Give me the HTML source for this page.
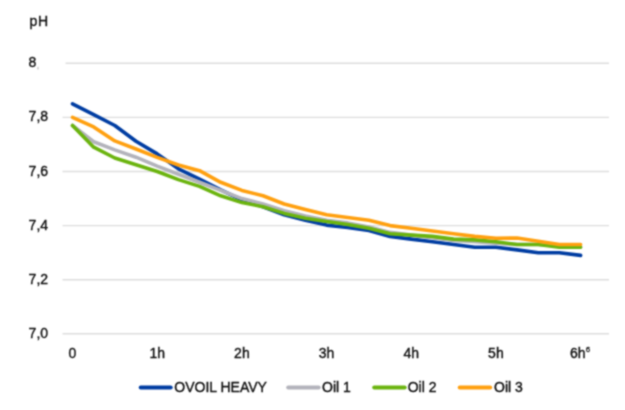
<!DOCTYPE html>
<html><head><meta charset="utf-8"><title>pH chart</title>
<style>
html,body{margin:0;padding:0;background:#fff;}
body{width:625px;height:410px;overflow:hidden;}
svg{display:block;}
.t{font-family:"Liberation Sans",sans-serif;font-size:14px;fill:#0c0c0c;stroke:#0c0c0c;stroke-width:0.35px;}
</style></head><body>
<svg width="625" height="410" viewBox="0 0 625 410">
<defs><filter id="bl" color-interpolation-filters="sRGB" x="0" y="0" width="625" height="410" filterUnits="userSpaceOnUse"><feConvolveMatrix order="3" kernelMatrix="1 2 1 2 6 2 1 2 1" edgeMode="duplicate" preserveAlpha="true"/></filter></defs>
<rect width="625" height="410" fill="#fff"/>
<g filter="url(#bl)">
<rect width="625" height="410" fill="#fff"/>
<text x="29.6" y="25.6" class="t" letter-spacing="0.5">pH</text>
<ellipse cx="38" cy="68.2" rx="0.9" ry="1.6" fill="#d4d4d4"/>
<line x1="65.5" x2="609" y1="63.3" y2="63.3" stroke="#dddddd" stroke-width="1.4"/>
<text x="28.6" y="67.3" class="t">8</text>
<line x1="62.5" x2="609" y1="117.4" y2="117.4" stroke="#dddddd" stroke-width="1.4"/>
<text x="28.6" y="121.4" class="t">7,8</text>
<line x1="62.5" x2="609" y1="171.5" y2="171.5" stroke="#dddddd" stroke-width="1.4"/>
<text x="28.6" y="175.5" class="t">7,6</text>
<line x1="62.5" x2="609" y1="225.6" y2="225.6" stroke="#dddddd" stroke-width="1.4"/>
<text x="28.6" y="229.6" class="t">7,4</text>
<line x1="62.5" x2="609" y1="279.7" y2="279.7" stroke="#dddddd" stroke-width="1.4"/>
<text x="28.6" y="283.7" class="t">7,2</text>
<line x1="62.5" x2="609" y1="333.8" y2="333.8" stroke="#dddddd" stroke-width="1.4"/>
<text x="28.6" y="337.8" class="t">7,0</text>

<text x="72.5" y="357.8" class="t" text-anchor="middle">0</text>
<text x="157.2" y="357.8" class="t" text-anchor="middle">1h</text>
<text x="241.9" y="357.8" class="t" text-anchor="middle">2h</text>
<text x="326.6" y="357.8" class="t" text-anchor="middle">3h</text>
<text x="411.2" y="357.8" class="t" text-anchor="middle">4h</text>
<text x="495.9" y="357.8" class="t" text-anchor="middle">5h</text>
<text x="580.1" y="357.8" class="t" text-anchor="middle">6h<tspan dy="-6.3" font-size="8" fill="#444" stroke-width="0.3">6</tspan></text>

<polyline points="72.5,103.9 93.7,114.7 114.8,125.5 136.0,141.2 157.2,153.9 178.4,168.8 199.5,179.1 220.7,189.9 241.9,199.9 263.0,206.7 284.2,214.8 305.4,220.2 326.6,225.1 347.7,227.5 368.9,230.5 390.1,236.4 411.2,239.1 432.4,241.8 453.6,244.5 474.7,247.2 495.9,247.2 517.1,249.9 538.3,252.7 559.4,252.7 580.6,255.4" fill="none" stroke="#003da2" stroke-width="3.6" stroke-linecap="round" stroke-linejoin="round"/>
<polyline points="72.5,125.5 93.7,141.7 114.8,149.9 136.0,157.2 157.2,166.1 178.4,174.2 199.5,182.3 220.7,190.4 241.9,198.6 263.0,204.0 284.2,210.7 305.4,216.1 326.6,220.2 347.7,222.9 368.9,227.0 390.1,232.4 411.2,235.1 432.4,237.8 453.6,240.5 474.7,241.8 495.9,243.2 517.1,244.5 538.3,244.5 559.4,245.9 580.6,247.2" fill="none" stroke="#b3b3bb" stroke-width="3.6" stroke-linecap="round" stroke-linejoin="round"/>
<polyline points="72.5,125.5 93.7,147.2 114.8,158.0 136.0,164.7 157.2,171.5 178.4,179.6 199.5,186.4 220.7,195.8 241.9,202.6 263.0,206.7 284.2,213.4 305.4,218.3 326.6,221.5 347.7,224.5 368.9,228.3 390.1,233.7 411.2,235.1 432.4,236.4 453.6,239.1 474.7,239.9 495.9,241.8 517.1,244.5 538.3,244.5 559.4,247.2 580.6,247.2" fill="none" stroke="#6bb40f" stroke-width="3.6" stroke-linecap="round" stroke-linejoin="round"/>
<polyline points="72.5,117.4 93.7,126.9 114.8,140.9 136.0,149.0 157.2,157.4 178.4,165.0 199.5,170.7 220.7,182.3 241.9,190.4 263.0,195.8 284.2,204.0 305.4,209.4 326.6,214.8 347.7,217.5 368.9,220.2 390.1,225.6 411.2,228.3 432.4,231.0 453.6,233.7 474.7,236.4 495.9,238.3 517.1,238.0 538.3,241.3 559.4,244.5 580.6,244.5" fill="none" stroke="#ffa010" stroke-width="3.6" stroke-linecap="round" stroke-linejoin="round"/>

<line x1="140.7" x2="170.7" y1="387.4" y2="387.4" stroke="#003da2" stroke-width="4" stroke-linecap="round"/>
<text x="174.3" y="391.7" class="t">OVOIL HEAVY</text>
<line x1="288.2" x2="318.7" y1="387.4" y2="387.4" stroke="#b3b3bb" stroke-width="4" stroke-linecap="round"/>
<text x="322.0" y="391.7" class="t">Oil 1</text>
<line x1="374.2" x2="404.7" y1="387.4" y2="387.4" stroke="#6bb40f" stroke-width="4" stroke-linecap="round"/>
<text x="407.7" y="391.7" class="t">Oil 2</text>
<line x1="459.7" x2="490.2" y1="387.4" y2="387.4" stroke="#ffa010" stroke-width="4" stroke-linecap="round"/>
<text x="494.0" y="391.7" class="t">Oil 3</text>

</g>
</svg>
</body></html>
